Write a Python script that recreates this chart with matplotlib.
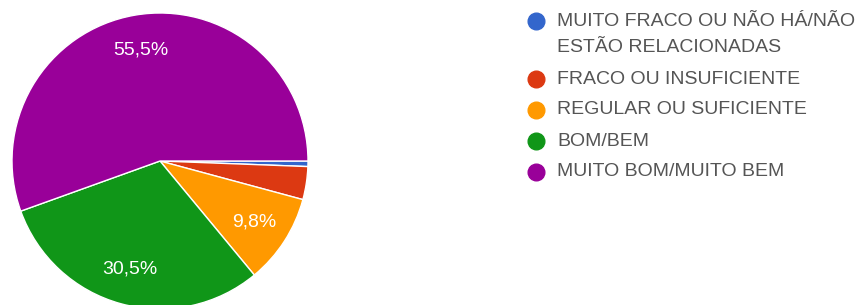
import matplotlib
matplotlib.use("Agg")
import matplotlib.pyplot as plt

categories = ["MUITO FRACO OU NÃO HÁ/NÃO\nESTÃO RELACIONADAS",
              "FRACO OU INSUFICIENTE",
              "REGULAR OU SUFICIENTE",
              "BOM/BEM",
              "MUITO BOM/MUITO BEM"]
values = [0.6, 3.6, 9.8, 30.5, 55.5]
colors = ["#3366CC", "#DC3912", "#FF9900", "#109618", "#990099"]

W, H = 864, 305
fig = plt.figure(figsize=(W / 100, H / 100), dpi=100)
ax = fig.add_axes([0, 0, 1, 1])
ax.axis("off")

cx, cy, r = 160, 161, 148  # pixels, cy from top

def pct(p):
    return ("%.1f%%" % p).replace(".", ",") if p >= 5 else ""

wedges, texts, autotexts = ax.pie(
    values, colors=colors, startangle=0, counterclock=False, radius=1,
    autopct=pct, pctdistance=0.76,
    wedgeprops=dict(edgecolor="white", linewidth=1),
    textprops=dict(color="white", fontsize=14, family="Liberation Sans"))
ax.set_xlim(-cx / r, (W - cx) / r)
ax.set_ylim(-(H - cy) / r, cy / r)
ax.set_aspect("auto")

# legend (manual)
y = 21
for lab, col in zip(categories, colors):
    lines = lab.split("\n")
    fig.lines.append(plt.Line2D([536 / W], [1 - y / H], marker="o", markersize=12,
                                color=col, linestyle="none", transform=fig.transFigure))
    for k, ln in enumerate(lines):
        fig.text(557 / W, 1 - (y + 27 * k) / H, ln, va="center", ha="left",
                 fontsize=14, color="#555555", family="Liberation Sans")
    y += 31 + 27 * (len(lines) - 1)

fig.savefig("out.png", dpi=100)
